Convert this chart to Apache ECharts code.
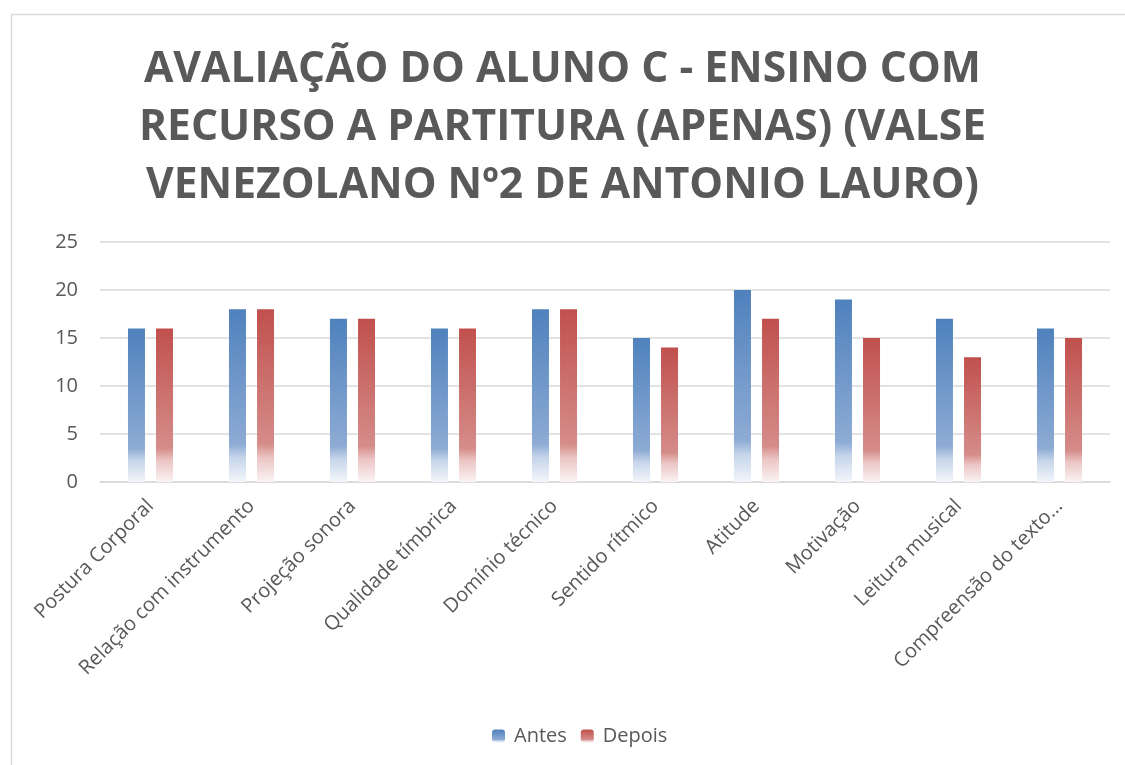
<!DOCTYPE html>
<html>
<head>
<meta charset="utf-8">
<script src="https://cdn.jsdelivr.net/npm/echarts@6/dist/echarts.min.js"></script>
<style>
html,body{margin:0;padding:0;background:#fff;}
#chart{width:1125px;height:765px;}
</style>
</head>
<body>
<div id="chart"></div>
<script>
const titleText = 'AVALIAÇÃO DO ALUNO C - ENSINO COM\nRECURSO A PARTITURA (APENAS) (VALSE\nVENEZOLANO Nº2 DE ANTONIO LAURO)';
const categories = ['Postura Corporal','Relação com instrumento','Projeção sonora','Qualidade tímbrica','Domínio técnico','Sentido rítmico','Atitude','Motivação','Leitura musical','Compreensão do texto…'];
const seriesNames = ['Antes','Depois'];
const antes = [16,18,17,16,18,15,20,19,17,16];
const depois = [16,18,17,16,18,14,17,15,13,15];
const yTicks = [0,5,10,15,20,25];

function grad(top, mid, low, bottom) {
  return new echarts.graphic.LinearGradient(0,0,0,1,[
    {offset:0,color:top},
    {offset:0.78,color:mid},
    {offset:0.86,color:low},
    {offset:1,color:bottom}
  ]);
}
const blueGrad = grad('#4F81BD','#8DABD4','#C6D5EA','#F3F6FB');
const redGrad = grad('#C0504D','#D58C89','#EBC5C4','#FBF3F3');

const chart = echarts.init(document.getElementById('chart'));
chart.setOption({
  backgroundColor:'#fff',
  animation:false,
  graphic:[{type:'rect',left:9,top:12,shape:{width:1200,height:800},style:{fill:'none',stroke:'#d9d9d9',lineWidth:1.5},silent:true,z:-1}],
  title:{
    text:titleText,
    left:'center',
    top:36,
    padding:[5,0,5,24],
    textStyle:{fontFamily:'Open Sans',fontWeight:'bold',fontSize:42.6,color:'#595959',lineHeight:58}
  },
  legend:{
    bottom:14,
    left:487,
    itemWidth:13,itemHeight:13,itemGap:14,
    textStyle:{fontFamily:'Open Sans',fontSize:20,color:'#595959',padding:[0,0,0,4]},
    data:seriesNames
  },
  grid:{left:100,right:15,top:242,bottom:283,containLabel:false},
  xAxis:{
    type:'category',
    data:categories,
    axisLine:{lineStyle:{color:'#d9d9d9',width:1.5}},
    axisTick:{show:false},
    axisLabel:{rotate:45,interval:0,fontFamily:'Open Sans',fontSize:20,color:'#595959',margin:21}
  },
  yAxis:{
    type:'value',min:yTicks[0],max:yTicks[yTicks.length-1],interval:5,
    axisLine:{show:false},axisTick:{show:false},
    axisLabel:{fontFamily:'Open Sans',fontSize:20,color:'#595959',margin:22},
    splitLine:{lineStyle:{color:'#d9d9d9',width:1.5}}
  },
  series:[
    {name:seriesNames[0],type:'bar',data:antes,barWidth:17,barGap:'65%',itemStyle:{color:blueGrad}},
    {name:seriesNames[1],type:'bar',data:depois,barWidth:17,barGap:'65%',itemStyle:{color:redGrad}}
  ]
});
</script>
</body>
</html>
